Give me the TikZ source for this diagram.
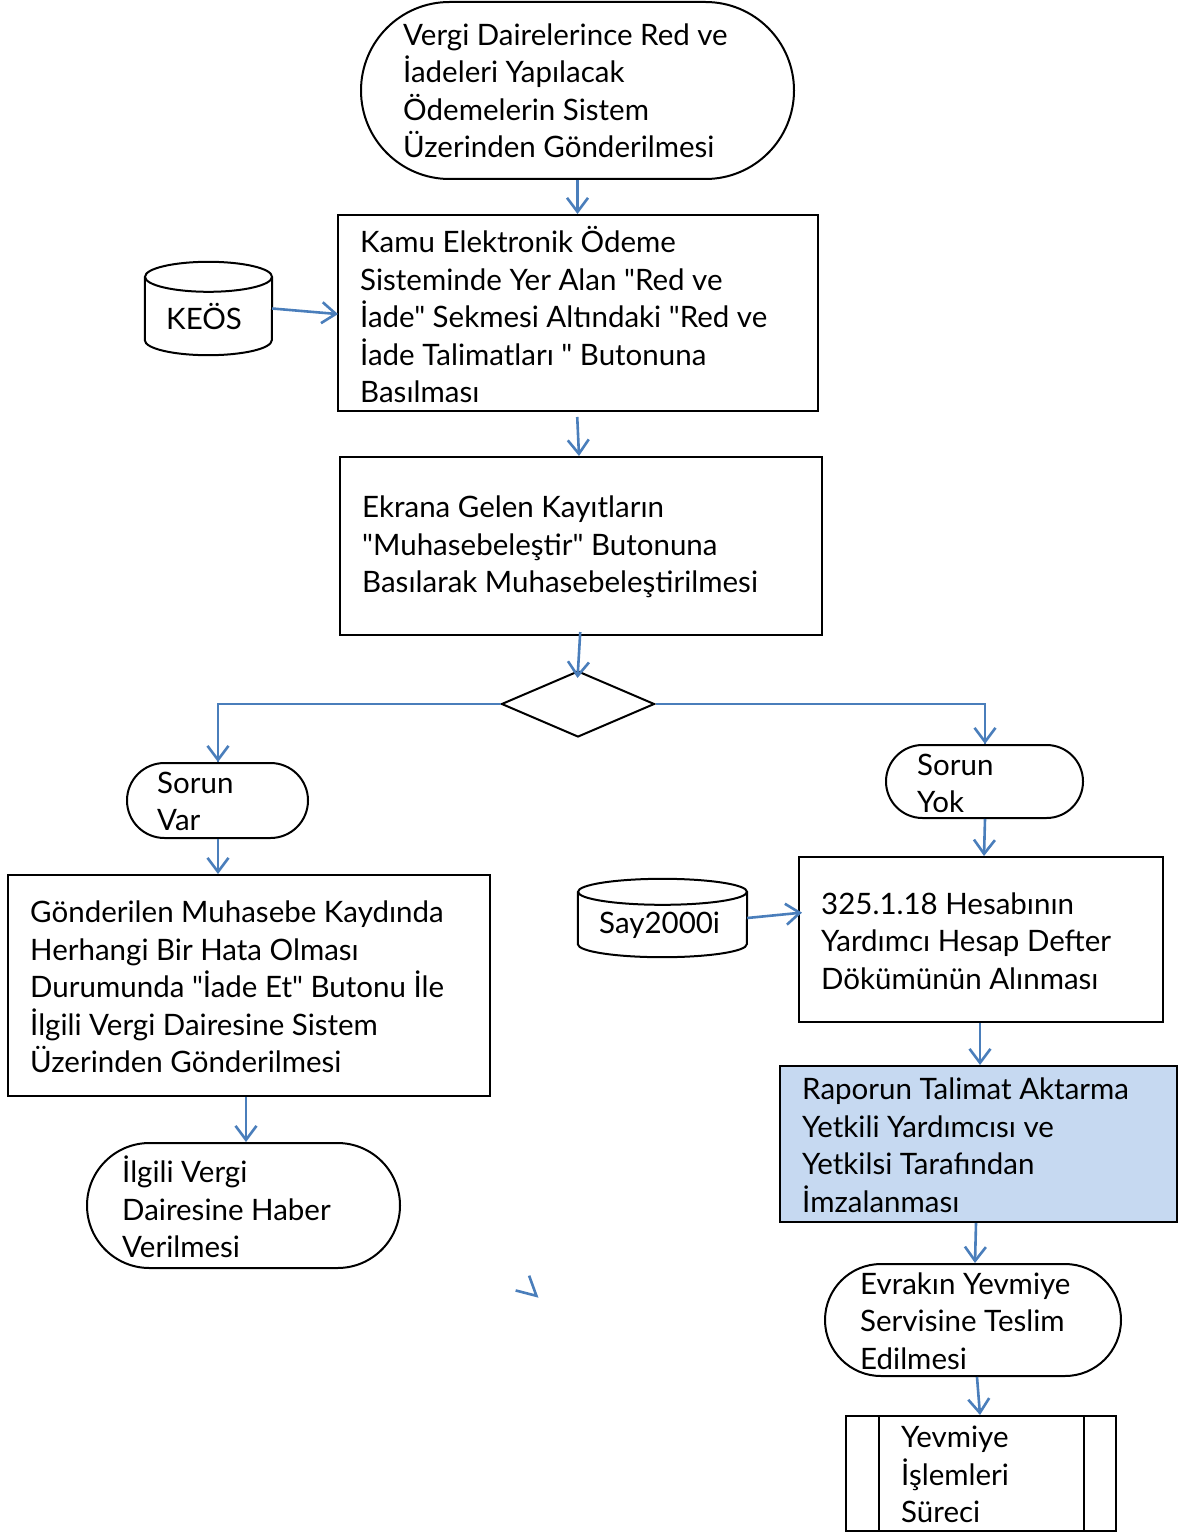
\documentclass[tikz,border=0pt]{standalone}
\usepackage{fontspec}
\setmainfont{Lato}[Ligatures=TeXOff]
\usetikzlibrary{shapes.geometric,shapes.misc,arrows.meta}
\definecolor{lineblue}{HTML}{4A7EBB}
\definecolor{boxblue}{HTML}{C6D9F1}
\tikzset{
  txt/.style={font=\fontsize{29.5pt}{37.5pt}\selectfont, align=left, inner sep=0pt, anchor=west},
  shp/.style={draw=black, line width=2pt, inner sep=0pt},
  boxshape/.style={shp, rectangle},
  termshape/.style={shp, rounded rectangle},
  dbshape/.style={inner sep=0pt, rectangle},
  dbline/.style={draw=black, line width=2pt},
  flow/.style={draw=lineblue, line width=2.6pt, -{Straight Barb[length=14pt,width=21pt,line width=2.6pt]}},
  strayflow/.style={draw=lineblue, line width=2.6pt, -{Straight Barb[length=19pt,width=20pt,line width=2.6pt]}},
  conn/.style={draw=lineblue, line width=2.6pt},
}
\begin{document}
\begin{tikzpicture}[x=1pt,y=-1pt]
\useasboundingbox (0,0) rectangle (1183,1533);
% shapes
\node[termshape, minimum width=433pt, minimum height=177pt] (t1) at (577.5,90.5) {};
\node[boxshape, minimum width=480pt, minimum height=196pt] (b2) at (578,313) {};
\node[boxshape, minimum width=482pt, minimum height=178pt] (b3) at (581,546) {};
\node[shp, diamond, aspect=2.3, minimum width=153pt, minimum height=66pt] (dia) at (578,704) {};
\node[termshape, minimum width=181pt, minimum height=75pt] (sv) at (217.5,800.5) {};
\node[termshape, minimum width=197pt, minimum height=73pt] (sy) at (984.5,781.5) {};
\node[boxshape, minimum width=482pt, minimum height=221pt] (lb) at (249,985.5) {};
\node[termshape, minimum width=313pt, minimum height=125pt] (ig) at (243.5,1205.5) {};
\node[boxshape, minimum width=364pt, minimum height=165pt] (rb) at (981,939.5) {};
\node[boxshape, fill=boxblue, minimum width=397pt, minimum height=156pt] (bl) at (978.5,1144) {};
\node[termshape, minimum width=296pt, minimum height=112pt] (ev) at (973,1320) {};
\node[boxshape, minimum width=270pt, minimum height=115pt] (yv) at (981,1473.5) {};
\draw[dbline] ([xshift=34pt]yv.north west) -- ([xshift=34pt]yv.south west);
\draw[dbline] ([xshift=-33pt]yv.north east) -- ([xshift=-33pt]yv.south east);
% databases
\node[dbshape, minimum width=127pt, minimum height=93pt] (keos) at (208.5,308.5) {};
\draw[dbline] ([yshift=-15pt]keos.north west) -- ([yshift=15pt]keos.south west)
  arc[start angle=180, end angle=360, x radius=63.5pt, y radius=15pt]
  -- ([yshift=-15pt]keos.north east);
\draw[dbline] ([yshift=-15pt]keos.north) ellipse [x radius=63.5pt, y radius=15pt];
\node[dbshape, minimum width=169pt, minimum height=78pt] (say) at (662.5,918) {};
\draw[dbline] ([yshift=-13pt]say.north west) -- ([yshift=13pt]say.south west)
  arc[start angle=180, end angle=360, x radius=84.5pt, y radius=13pt]
  -- ([yshift=-13pt]say.north east);
\draw[dbline] ([yshift=-13pt]say.north) ellipse [x radius=84.5pt, y radius=13pt];
% texts
\node[txt] (t1t) at (403,91) {Vergi Dairelerince Red ve\\İadeleri Yapılacak\\Ödemelerin Sistem\\Üzerinden Gönderilmesi};
\node[txt] (b2t) at (360,315) {Kamu Elektronik Ödeme\\Sisteminde Yer Alan "Red ve\\İade" Sekmesi Altındaki "Red ve\\İade Talimatları " Butonuna\\Basılması};
\node[txt] (b3t) at (362,547) {Ekrana Gelen Kayıtların\\"Muhasebeleştir" Butonuna\\Basılarak Muhasebeleştirilmesi};
\node[txt] (svt) at (157,801.5) {Sorun\\Var};
\node[txt] (syt) at (917,783.5) {Sorun\\Yok};
\node[txt] (lbt) at (30,987) {Gönderilen Muhasebe Kaydında\\Herhangi Bir Hata Olması\\Durumunda "İade Et" Butonu İle\\İlgili Vergi Dairesine Sistem\\Üzerinden Gönderilmesi};
\node[txt] (igt) at (122,1207) {İlgili Vergi\\Dairesine Haber\\Verilmesi};
\node[txt] (rbt) at (821,941) {325.1.18 Hesabının\\Yardımcı Hesap Defter\\Dökümünün Alınması};
\node[txt] (blt) at (802,1145) {Raporun Talimat Aktarma\\Yetkili Yardımcısı ve\\Yetkilsi Tarafından\\İmzalanması};
\node[txt] (evt) at (860,1321) {Evrakın Yevmiye\\Servisine Teslim\\Edilmesi};
\node[txt] (yvt) at (901,1474.5) {Yevmiye\\İşlemleri\\Süreci};
\node[txt] (keost) at (166,317) {KEÖS};
\node[txt] (sayt) at (599,925) {Say2000i};
% connectors
\draw[flow] (t1.south) -- (t1.south |- b2.north);
\draw[flow, shorten <=5pt] ([xshift=-1pt]b2.south) -- ([xshift=-2pt]b3.north);
\draw[flow, shorten <=-4pt, shorten >=-8pt] ([xshift=-1pt]b3.south) -- (dia.north);
\draw[conn] (dia.west) -| ([xshift=0.5pt]sv.north);
\draw[flow] ([xshift=0.5pt]sv.north) ++(0,-30) -- ([xshift=0.5pt]sv.north);
\draw[conn] (dia.east) -| ([xshift=0.5pt]sy.north);
\draw[flow] ([xshift=0.5pt]sy.north) ++(0,-30) -- ([xshift=0.5pt]sy.north);
\draw[flow] ([xshift=0.5pt]sv.south) -- ([xshift=0.5pt]sv.south |- lb.north);
\draw[flow] ([xshift=-3pt]lb.south) -- ([xshift=2.5pt]ig.north);
\draw[flow] ([xshift=0.5pt]sy.south) -- ([xshift=-0.5pt]sy.south |- rb.north);
\draw[flow, shorten >=-1pt] (keos.east) -- ([yshift=-1pt]b2.west);
\draw[flow, shorten >=-4pt] (say.east) -- ([yshift=26.5pt]rb.west);
\draw[flow] ([xshift=-1pt]rb.south) -- ([xshift=-1pt]rb.south |- bl.north);
\draw[flow] ([xshift=-2.5pt]bl.south) -- ([xshift=2pt]ev.north);
\draw[flow] ([xshift=4pt]ev.south) -- ([xshift=-1pt]yv.north);
\coordinate (s1) at (536.3,1295.7);
\coordinate (s2) at (538.5,1297.7);
\draw[strayflow] (s1) -- (s2);
\end{tikzpicture}
\end{document}
